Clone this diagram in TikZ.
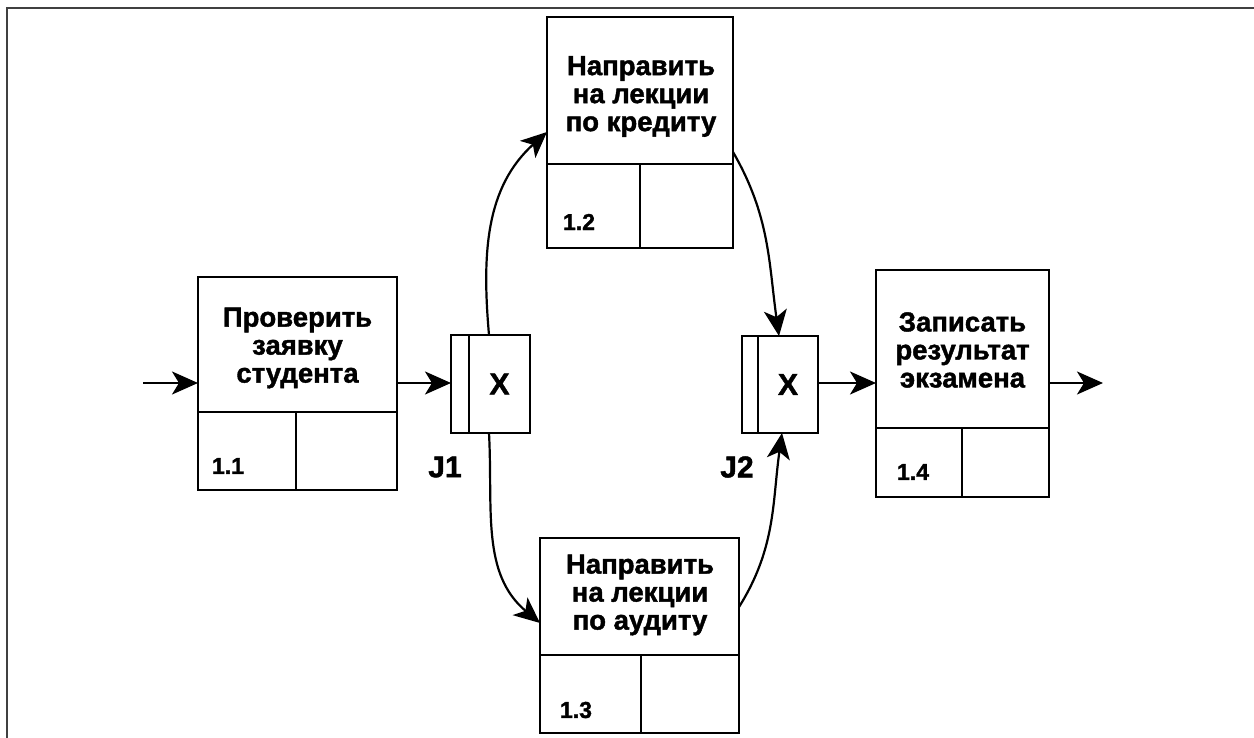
\documentclass[tikz,border=0pt]{standalone}
\usepackage{fontspec}
\setmainfont{Liberation Sans}[BoldFeatures={FakeBold=1.5}]
\usetikzlibrary{arrows.meta}
\begin{document}
\begin{tikzpicture}[x=1pt,y=-1pt,
  box/.style={draw,line width=2.5pt,inner sep=0pt,outer sep=0pt},
  ttl/.style={font=\fontsize{27.5}{28}\selectfont\bfseries,align=center,inner sep=0pt},
  num/.style={font=\fontsize{23}{23}\selectfont\bfseries,inner sep=0pt},
  jl/.style={font=\fontsize{30}{30}\selectfont\bfseries,inner sep=0pt},
  xl/.style={font=\fontsize{30}{30}\selectfont\bfseries},
  arr/.style={line width=2.2pt,-{Stealth[length=26pt,width=23pt,inset=7pt]}}]
\useasboundingbox (0,0) rectangle (1254,738);
\draw[line width=2.5pt,black!75] (1254,8) -- (7,8) -- (7,738);

% 1.1
\node[box,minimum width=199pt,minimum height=135pt] (a1) at (297.5,344.5) {};
\node[ttl] (t1) at (297.5,348) {Проверить\\заявку\\студента};
\node[box,minimum width=98pt,minimum height=78pt] (a1n) at (247,451) {};
\node[box,minimum width=101pt,minimum height=78pt] (a1e) at (346.5,451) {};
\node[num] (l1) at (228,466) {1.1};

% 1.2
\node[box,minimum width=186pt,minimum height=147pt] (a2) at (640,90.5) {};
\node[ttl] (t2) at (641,96.5) {Направить\\на лекции\\по кредиту};
\node[box,minimum width=93pt,minimum height=84pt] (a2n) at (593.5,206) {};
\node[box,minimum width=93pt,minimum height=84pt] (a2e) at (686.5,206) {};
\node[num] (l2) at (579,222) {1.2};

% 1.3
\node[box,minimum width=199pt,minimum height=117pt] (a3) at (639.5,596.5) {};
\node[ttl] (t3) at (640,595) {Направить\\на лекции\\по аудиту};
\node[box,minimum width=101pt,minimum height=78pt] (a3n) at (590.5,694) {};
\node[box,minimum width=98pt,minimum height=78pt] (a3e) at (690,694) {};
\node[num] (l3) at (576,710) {1.3};

% 1.4
\node[box,minimum width=173pt,minimum height=158pt] (a4) at (962.5,349) {};
\node[ttl] (t4) at (962.5,350) {Записать\\результат\\экзамена};
\node[box,minimum width=86pt,minimum height=69pt] (a4n) at (919,462.5) {};
\node[box,minimum width=87pt,minimum height=69pt] (a4e) at (1005.5,462.5) {};
\node[num] (l4) at (913,472) {1.4};

% J1
\node[box,minimum width=18pt,minimum height=98pt] (j1a) at (460,384) {};
\node[box,xl,minimum width=61pt,minimum height=98pt] (j1b) at (499.5,384) {X};
\node[jl] (lj1) at (445,467) {J1};

% J2
\node[box,minimum width=16pt,minimum height=97pt] (j2a) at (750,384.5) {};
\node[box,xl,minimum width=60pt,minimum height=97pt] (j2b) at (788,384.5) {X};
\node[jl] (lj2) at (737,467) {J2};

% connectors
\coordinate (in) at (143,383);
\coordinate (out) at (1103,383);
\draw[arr] (in) -- (a1.west |- in);
\draw[arr] (a1.east |- in) -- (j1a.west |- in);
\draw[arr] (j2b.east |- in) -- (a4.west |- in);
\draw[arr] (a4.east |- out) -- (out);

\draw[arr] (489,0 |- j1b.north) to[out=95,in=222] (a2.west |- 0,132);
\draw[arr] (489,0 |- j1b.south) to[out=-87,in=140] (a3.west |- 0,623);
\draw[arr] (a2.east |- 0,152) to[out=-60,in=98] (779,0 |- j2b.north);
\draw[arr] (a3.east |- 0,607) to[out=58,in=-98] (782,0 |- j2b.south);
\end{tikzpicture}
\end{document}
